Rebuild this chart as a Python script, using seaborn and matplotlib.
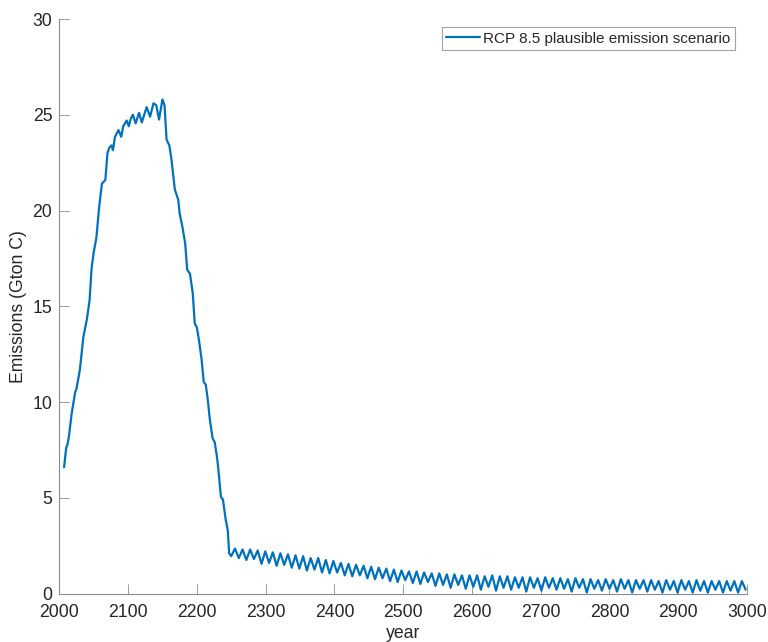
import numpy as np
import pandas as pd
import matplotlib
matplotlib.use("Agg")
import matplotlib.pyplot as plt
import seaborn as sns

# ---- data ----
main_years = [2007, 2010, 2012, 2014, 2018, 2023, 2025, 2030, 2035, 2040, 2044, 2047, 2050,
              2054, 2058, 2062, 2067, 2070, 2073, 2076, 2078, 2081, 2086, 2090, 2093, 2098,
              2101, 2104, 2107, 2111, 2116, 2120, 2127, 2132, 2137, 2141, 2145, 2150, 2153,
              2156, 2160, 2163, 2168, 2173, 2175, 2179, 2183, 2186, 2190, 2194, 2197, 2200,
              2203, 2207, 2210, 2213, 2216, 2219, 2223, 2226, 2229, 2231, 2235, 2238, 2242,
              2245, 2247]
main_values = [6.6, 7.6, 7.8, 8.2, 9.4, 10.5, 10.7, 11.7, 13.4, 14.3, 15.3, 17.0, 17.8,
               18.6, 20.2, 21.4, 21.6, 23.0, 23.3, 23.4, 23.15, 23.85, 24.2, 23.85, 24.4, 24.7,
               24.4, 24.8, 25.0, 24.55, 25.1, 24.6, 25.4, 24.9, 25.6, 25.5, 24.75, 25.8, 25.5,
               23.7, 23.4, 22.7, 21.1, 20.55, 19.85, 19.15, 18.3, 16.9, 16.7, 15.7, 14.1, 13.9,
               13.25, 12.2, 11.05, 10.9, 10.1, 9.05, 8.1, 7.9, 7.2, 6.6, 5.05, 4.9, 3.85,
               3.3, 2.1]

trough_years = [2250, 2261, 2272, 2283, 2294, 2305, 2316, 2327, 2338, 2349, 2360, 2371, 2382,
                2393, 2404, 2415, 2426, 2437, 2448, 2459, 2470, 2481, 2492, 2503, 2514, 2525,
                2536, 2547, 2558, 2569, 2580, 2591, 2602, 2613, 2624, 2635, 2646, 2657, 2668,
                2679, 2690, 2701, 2712, 2723, 2734, 2745, 2756, 2767, 2778, 2789, 2800, 2811,
                2822, 2833, 2844, 2855, 2866, 2877, 2888, 2899, 2910, 2921, 2932, 2943, 2954,
                2965, 2976, 2987, 2998]
trough_values = [1.95, 1.85, 1.75, 1.8, 1.55, 1.6, 1.45, 1.5, 1.35, 1.3, 1.2, 1.25, 1.1,
                 1.05, 1.1, 0.95, 0.9, 0.95, 0.8, 0.75, 0.8, 0.65, 0.6, 0.7, 0.55, 0.5,
                 0.6, 0.4, 0.45, 0.3, 0.45, 0.25, 0.35, 0.2, 0.35, 0.15, 0.3, 0.2, 0.3,
                 0.1, 0.3, 0.15, 0.3, 0.2, 0.25, 0.1, 0.3, 0.05, 0.25, 0.15, 0.25, 0.1,
                 0.25, 0.05, 0.25, 0.1, 0.2, 0.05, 0.2, 0.05, 0.2, 0.05, 0.15, 0.05, 0.2,
                 0.05, 0.15, 0.05, 0.2]
peak_years = [2255.5, 2266.5, 2277.5, 2288.5, 2299.5, 2310.5, 2321.5, 2332.5, 2343.5, 2354.5,
              2365.5, 2376.5, 2387.5, 2398.5, 2409.5, 2420.5, 2431.5, 2442.5, 2453.5, 2464.5,
              2475.5, 2486.5, 2497.5, 2508.5, 2519.5, 2530.5, 2541.5, 2552.5, 2563.5, 2574.5,
              2585.5, 2596.5, 2607.5, 2618.5, 2629.5, 2640.5, 2651.5, 2662.5, 2673.5, 2684.5,
              2695.5, 2706.5, 2717.5, 2728.5, 2739.5, 2750.5, 2761.5, 2772.5, 2783.5, 2794.5,
              2805.5, 2816.5, 2827.5, 2838.5, 2849.5, 2860.5, 2871.5, 2882.5, 2893.5, 2904.5,
              2915.5, 2926.5, 2937.5, 2948.5, 2959.5, 2970.5, 2981.5, 2992.5]
peak_values = [2.35, 2.3, 2.3, 2.25, 2.2, 2.15, 2.1, 2.05, 2.0, 1.95,
               1.85, 1.85, 1.75, 1.7, 1.6, 1.55, 1.5, 1.45, 1.4, 1.35,
               1.3, 1.25, 1.2, 1.15, 1.15, 1.1, 1.05, 1.05, 1.0, 1.0,
               0.95, 0.95, 0.95, 0.9, 0.95, 0.9, 0.9, 0.85, 0.85, 0.85,
               0.8, 0.85, 0.8, 0.8, 0.75, 0.8, 0.75, 0.75, 0.7, 0.75,
               0.7, 0.75, 0.7, 0.7, 0.7, 0.7, 0.65, 0.7, 0.65, 0.7,
               0.65, 0.7, 0.65, 0.65, 0.65, 0.65, 0.65, 0.65]

x_ticks = [2000, 2100, 2200, 2300, 2400, 2500, 2600, 2700, 2800, 2900, 3000]
y_ticks = [0, 5, 10, 15, 20, 25, 30]
series_label = "RCP 8.5 plausible emission scenario"

df = pd.DataFrame({
    "year": main_years + trough_years + peak_years,
    "emissions": main_values + trough_values + peak_values,
}).sort_values("year")

# ---- styling ----
sns.set_theme(style="ticks")
plt.rcParams["font.family"] = ["Liberation Sans", "DejaVu Sans"]

fig = plt.figure(figsize=(7.68, 6.42), dpi=100)
ax = fig.add_axes([0.0772, 0.0755, 0.8955, 0.8949])

sns.lineplot(data=df, x="year", y="emissions", ax=ax, color="#0072BD",
             linewidth=1.6, label=series_label, estimator=None, sort=True)

ax.set_xlim(2000, 3000)
ax.set_ylim(0, 30)
ax.set_xticks(x_ticks)
ax.set_yticks(y_ticks)
ax.set_xticklabels([str(t) for t in x_ticks])
ax.set_yticklabels([str(t) for t in y_ticks])

for s in ["top", "right"]:
    ax.spines[s].set_visible(False)
for s in ["left", "bottom"]:
    ax.spines[s].set_color("#8c8c8c")
    ax.spines[s].set_linewidth(0.8)

ax.tick_params(direction="in", length=7, width=0.6, colors="#8c8c8c",
               labelcolor="#262626", labelsize=12.7)
ax.tick_params(axis="x", pad=7.5)
ax.tick_params(axis="y", pad=5)

ax.set_xlabel("year", fontsize=12.7, color="#262626", labelpad=3)
ax.set_ylabel("Emissions (Gton C)", fontsize=12.7, color="#262626", labelpad=4)

leg = ax.legend(loc="upper right", bbox_to_anchor=(0.9825, 0.986), fontsize=11.0,
                frameon=True, fancybox=False, handlelength=2.2, handletextpad=0.2,
                borderpad=0.3, borderaxespad=0)
leg.get_frame().set_edgecolor("#8c8c8c")
leg.get_frame().set_linewidth(0.8)
for t in leg.get_texts():
    t.set_color("#262626")

fig.savefig("out.png", dpi=100)
